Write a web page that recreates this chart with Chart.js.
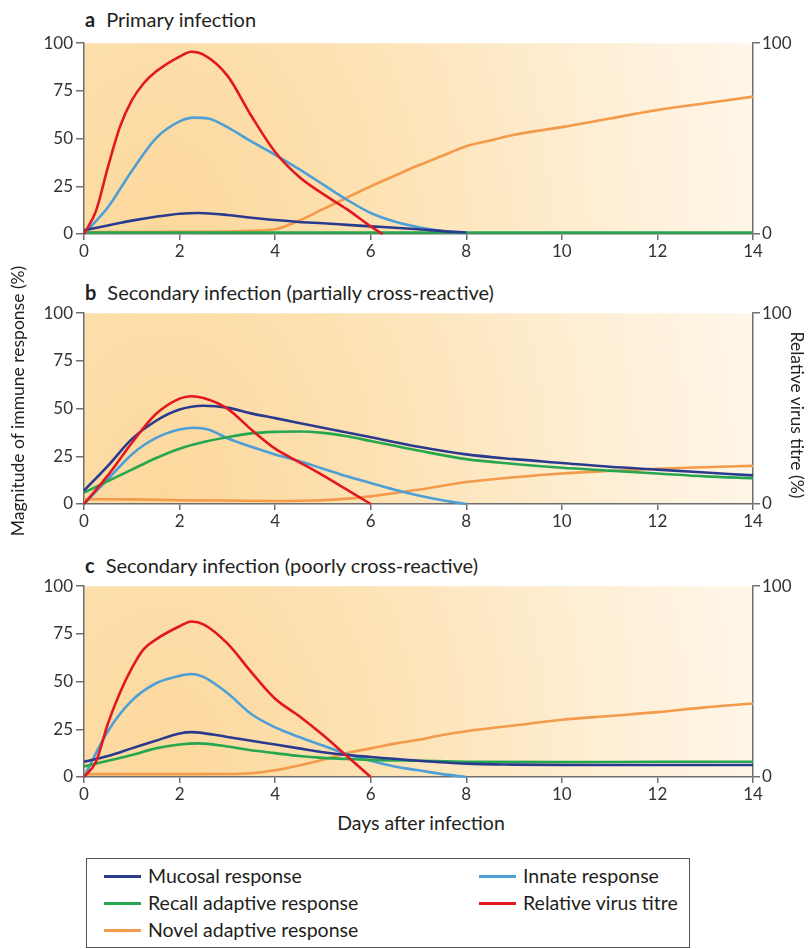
<!DOCTYPE html>
<html>
<head>
<meta charset="utf-8">
<script src="https://cdn.jsdelivr.net/npm/chart.js@4.4.1/dist/chart.umd.min.js"></script>
<style>
  body { margin: 0; width: 808px; height: 949px; position: relative; background: #fff; overflow: hidden;
         font-family: Lato, "Open Sans", sans-serif; color: #231f20; }
  canvas { position: absolute; left: 0; }
  .ptitle { position: absolute; left: 85px; font-size: 20px; line-height: 22px; white-space: nowrap; }
  .ptitle b { margin-right: 11px; }
  .axtitle { position: absolute; width: 400px; height: 22px; line-height: 22px; font-size: 17.5px;
             text-align: center; white-space: nowrap; }
  .legend { position: absolute; left: 86px; top: 858px; width: 604px; height: 90px;
            border: 1px solid #555; box-sizing: border-box; }
  .item { position: absolute; font-size: 19.5px; line-height: 22px; white-space: nowrap; }
  .item i { position: absolute; top: 10px; height: 3px; }
</style>
</head>
<body>
<div class="ptitle" style="top:8px"><b>a</b>Primary infection</div>
<div class="ptitle" style="top:281px"><b>b</b>Secondary infection (partially cross-reactive)</div>
<div class="ptitle" style="top:554px"><b>c</b>Secondary infection (poorly cross-reactive)</div>

<canvas id="chartA" width="808" height="234" style="top:30px"></canvas>
<canvas id="chartB" width="808" height="234" style="top:300px"></canvas>
<canvas id="chartC" width="808" height="234" style="top:573px"></canvas>

<div class="axtitle" style="left:-182px;top:390px;transform:rotate(-90deg)">Magnitude of immune response (%)</div>
<div class="axtitle" style="left:597px;top:404px;transform:rotate(90deg)">Relative virus titre (%)</div>
<div class="axtitle" style="left:221px;top:812px;font-size:19.5px">Days after infection</div>

<div class="legend" id="legend"></div>

<script>
// x ticks (days) and y ticks
const DAY_TICKS = [0, 2, 4, 6, 8, 10, 12, 14];
const LEFT_TICKS = [0, 25, 50, 75, 100];
const RIGHT_TICKS = [0, 100];

const SERIES_NAMES = ['Mucosal response', 'Recall adaptive response', 'Novel adaptive response', 'Innate response', 'Relative virus titre'];
const SERIES_COLORS = ['#2a3b8f', '#27a650', '#f39a4b', '#4d9fd6', '#e3181f'];

// a: primary infection  [day, value]
const primaryMucosal = [[0,2],[0.5,4.5],[1,7],[1.5,9],[2,10.6],[2.4,11],[3,10],[3.5,8.5],[4,7.3],[4.5,6.3],[5,5.6],[5.5,4.8],[6,4],[6.5,3.3],[7,2.5],[7.5,1.5],[8,0.8]];
const primaryRecall = [[0,0.8],[14,0.8]];
const primaryNovel = [[0,1],[2,1.1],[3,1.3],[3.5,1.7],[4,2.5],[4.5,7],[5,13],[5.5,19],[6,25],[6.5,30.5],[7,36],[7.5,41],[8,46],[8.5,49],[9,52],[10,56],[11,60.5],[12,65],[13,68.5],[14,72]];
const primaryInnate = [[0,0],[0.5,14],[1,33],[1.5,50],[2,59],[2.3,61],[2.6,60.5],[3,56],[3.5,48.5],[4,41.5],[4.5,34],[5,26],[5.5,18],[6,11],[6.5,6.5],[7,3.5],[7.5,1.5],[8,0.5]];
const primaryVirus = [[0,0],[0.25,12],[0.5,35],[0.75,56],[1,70],[1.25,79],[1.5,85],[2,93],[2.25,95.5],[2.5,94],[3,83],[3.5,62],[4,43],[4.5,30],[5,21],[5.5,13],[6,4],[6.25,0]];

// b: secondary infection, partially cross-reactive
const partialMucosal = [[0,7],[0.5,20],[1,34],[1.5,43.5],[2,49.5],[2.5,51.5],[3,50.5],[3.5,47.5],[4,45],[4.5,42.5],[5,40],[5.5,37.5],[6,35],[7,30],[8,26],[9,23.5],[10,21.5],[11,19.5],[12,18],[13,16.5],[14,15]];
const partialRecall = [[0,6],[0.5,12],[1,18],[1.5,24],[2,29],[2.5,32.5],[3,35],[3.5,37],[4,37.8],[4.5,38],[5,37.3],[5.5,35.5],[6,33],[6.5,30.5],[7,28],[8,23.5],[9,21],[10,19],[11,17.5],[12,16],[13,14.5],[14,13.5]];
const partialNovel = [[0,2.5],[1,2.4],[2,2],[3,1.8],[4,1.6],[5,2],[5.5,2.8],[6,4],[7,7.5],[8,11.5],[9,14],[10,16],[11,17.3],[12,18.5],[13,19.3],[14,20]];
const partialInnate = [[0,0],[0.5,13],[1,26],[1.5,34.5],[2,39],[2.3,40],[2.6,39],[3,34.5],[3.5,30],[4,26],[4.5,22.5],[5,18.5],[5.5,14.5],[6,11],[6.5,7.5],[7,4.5],[7.5,2],[8,0]];
const partialVirus = [[0,0],[0.5,15],[1,32],[1.5,47],[2,55.2],[2.25,56.5],[2.5,55.5],[3,50],[3.5,39],[4,29],[4.5,22],[5,15],[5.5,7.5],[6,0]];

// c: secondary infection, poorly cross-reactive
const poorMucosal = [[0,8],[0.5,11],[1,15],[1.5,19],[2,22.8],[2.25,23.5],[2.5,23],[3,21],[3.5,19],[4,17],[4.5,15],[5,13],[5.5,11.5],[6,10.5],[7,8.5],[8,7],[9,6.5],[10,6.3],[12,6.3],[14,6.3]];
const poorRecall = [[0,5.5],[0.5,8.5],[1,11.5],[1.5,15],[2,17],[2.4,17.6],[3,16],[3.5,14],[4,12.5],[4.5,11],[5,10],[5.5,9.5],[6,9],[7,8.5],[8,8],[10,7.8],[12,8],[14,8]];
const poorNovel = [[0,1.5],[1,1.5],[2,1.5],[3,1.6],[3.5,2],[4,3.5],[4.5,6],[5,9],[5.5,12.5],[6,15],[6.5,17.5],[7,19.5],[7.5,22],[8,24],[9,27],[10,30],[11,32],[12,34],[13,36.5],[14,38.5]];
const poorInnate = [[0,0],[0.5,24],[1,40],[1.5,49],[2,53],[2.25,54],[2.5,52.5],[3,44],[3.5,33],[4,26],[4.5,21],[5,16.5],[5.5,12],[6,8.5],[6.5,5.5],[7,3.5],[7.5,1.5],[8,0]];
const poorVirus = [[0,0],[0.25,8],[0.5,28],[0.75,44],[1,57],[1.25,67],[1.5,72],[2,79],[2.25,81.5],[2.5,80],[3,70],[3.5,55],[4,41],[4.5,32],[5,22],[5.5,11],[6,0]];

const AXIS_GREY = '#6f6f6f';
const TICK_FONT = { family: 'Lato, "Open Sans", sans-serif', size: 17 };

const bgPlugin = {
  id: 'bg',
  beforeDraw(chart) {
    const { ctx, chartArea: a } = chart;
    const w = a.right - a.left;
    ctx.save();
    ctx.beginPath();
    ctx.rect(a.left, a.top, w, a.bottom - a.top);
    ctx.clip();
    ctx.translate(a.left + 0.12 * w, a.bottom);
    ctx.scale(1, 1.4);
    const g = ctx.createRadialGradient(0, 0, 0, 0, 0, 720);
    g.addColorStop(0, '#fcd89c');
    g.addColorStop(0.3, '#fde2b3');
    g.addColorStop(0.6, '#feeed3');
    g.addColorStop(0.85, '#fff7eb');
    g.addColorStop(1, '#ffffff');
    ctx.fillStyle = g;
    ctx.fillRect(-200, -400, 1200, 600);
    ctx.restore();
  }
};

const setTicks = (list) => (scale) => { scale.ticks = list.map(v => ({ value: v })); };

function makePanel(id, series) {
  const datasets = series.map((pts, i) => ({
    label: SERIES_NAMES[i],
    data: pts.map(([x, y]) => ({ x, y })),
    borderColor: SERIES_COLORS[i],
    borderWidth: 2.6,
    pointRadius: 0,
    cubicInterpolationMode: 'monotone',
    fill: false,
    clip: 6,
    order: [2, 3, 5, 4, 1][i]
  }));
  new Chart(document.getElementById(id), {
    type: 'line',
    data: { datasets },
    plugins: [bgPlugin],
    options: {
      responsive: false,
      animation: false,
      layout: { padding: { top: 13, left: 0, right: 0, bottom: 0 } },
      plugins: { legend: { display: false }, tooltip: { enabled: false } },
      scales: {
        x: {
          type: 'linear', min: 0, max: 14,
          afterBuildTicks: setTicks(DAY_TICKS),
          afterFit: (s) => { s.height = 30; },
          border: { color: AXIS_GREY, width: 1.5 },
          grid: { drawOnChartArea: false, tickLength: 6, color: AXIS_GREY, lineWidth: 1.5 },
          ticks: { color: '#333', font: TICK_FONT, padding: 1, maxRotation: 0 }
        },
        y: {
          position: 'left', min: 0, max: 100,
          afterBuildTicks: setTicks(LEFT_TICKS),
          afterFit: (s) => { s.width = 84; },
          border: { color: AXIS_GREY, width: 1.5 },
          grid: { drawOnChartArea: false, tickLength: 8, color: AXIS_GREY, lineWidth: 1.5 },
          ticks: { color: '#333', font: TICK_FONT, padding: 3 }
        },
        y2: {
          position: 'right', min: 0, max: 100,
          afterBuildTicks: setTicks(RIGHT_TICKS),
          afterFit: (s) => { s.width = 55; },
          border: { color: AXIS_GREY, width: 1.5 },
          grid: { drawOnChartArea: false, tickLength: 7, color: AXIS_GREY, lineWidth: 1.5 },
          ticks: { color: '#333', font: TICK_FONT, padding: 2 }
        }
      }
    }
  });
}

makePanel('chartA', [primaryMucosal, primaryRecall, primaryNovel, primaryInnate, primaryVirus]);
makePanel('chartB', [partialMucosal, partialRecall, partialNovel, partialInnate, partialVirus]);
makePanel('chartC', [poorMucosal, poorRecall, poorNovel, poorInnate, poorVirus]);

// legend (HTML)
const LEGEND_POS = [[17, 6], [17, 33], [17, 60], [392, 6], [392, 33]];
const legend = document.getElementById('legend');
SERIES_NAMES.forEach((name, i) => {
  const [x, y] = LEGEND_POS[i];
  const el = document.createElement('div');
  el.className = 'item';
  el.style.left = (x + 44) + 'px';
  el.style.top = y + 'px';
  el.textContent = name;
  const line = document.createElement('i');
  line.style.left = '-44px';
  line.style.width = '37px';
  line.style.background = SERIES_COLORS[i];
  el.appendChild(line);
  legend.appendChild(el);
});
</script>
</body>
</html>
